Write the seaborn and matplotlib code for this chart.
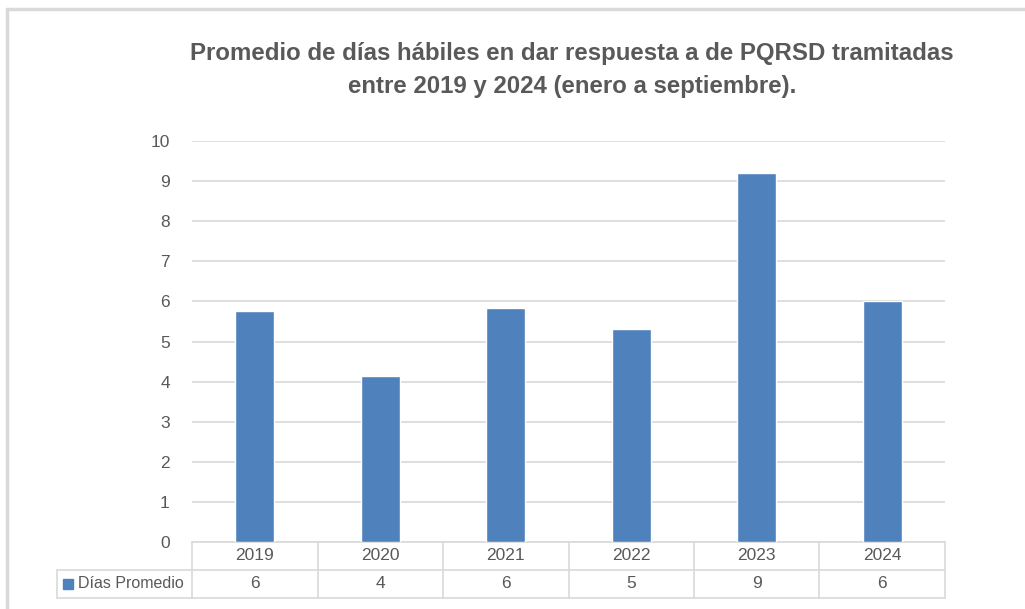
import matplotlib
matplotlib.use("Agg")
import matplotlib.pyplot as plt
import seaborn as sns
import pandas as pd
from matplotlib.lines import Line2D
from matplotlib.patches import Rectangle

# datos
anios = ["2019", "2020", "2021", "2022", "2023", "2024"]
dias_promedio = [5.76, 4.14, 5.84, 5.30, 9.19, 6.01]
etiquetas_tabla = ["6", "4", "6", "5", "9", "6"]
serie = "Días Promedio"
titulo = ("Promedio de días hábiles en dar respuesta a de PQRSD tramitadas\n"
          "entre 2019 y 2024 (enero a septiembre).")

AZUL = "#4f81bd"
GRIS_TXT = "#595959"
GRIS_LIN = "#d9d9d9"

sns.set_style("white")
plt.rcParams['font.family'] = ['Liberation Sans', 'DejaVu Sans']

W, H = 1025, 609
fig = plt.figure(figsize=(W / 100, H / 100), dpi=100)

# marco exterior
fig.add_artist(Line2D([7 / W, 7 / W], [0, 1 - 9 / H], color=GRIS_LIN, lw=2.5))
fig.add_artist(Line2D([7 / W, 1], [1 - 9 / H, 1 - 9 / H], color=GRIS_LIN, lw=2.5))

x0, x1, yb, yt = 192, 945, 542, 141
ax = fig.add_axes([x0 / W, 1 - yb / H, (x1 - x0) / W, (yb - yt) / H])

df = pd.DataFrame({"anio": anios, "dias": dias_promedio})
sns.barplot(data=df, x="anio", y="dias", color=AZUL, width=0.314,
            saturation=1, ax=ax, zorder=3)

ax.set_ylim(0, 10)
ax.set_xlim(-0.5, len(anios) - 0.5)
ax.set_yticks(range(0, 11))
ax.yaxis.grid(True, color=GRIS_LIN, lw=1.2, zorder=0)
ax.set_axisbelow(True)
for s in ax.spines.values():
    s.set_visible(False)
ax.set_xlabel("")
ax.set_ylabel("")
ax.set_xticks([])
ax.tick_params(axis="y", length=0, pad=16, labelsize=12.5, labelcolor=GRIS_TXT)

# tabla de datos bajo el eje
rh = 28 / (yb - yt)
left_frac = (57 - x0) / (x1 - x0)
tr = ax.get_xaxis_transform()
kw = dict(color=GRIS_LIN, lw=1.2, clip_on=False)
ax.plot([-0.5, len(anios) - 0.5], [0, 0], transform=tr, **kw)
ax.plot([left_frac, 1], [-rh, -rh], transform=ax.transAxes, **kw)
ax.plot([left_frac, 1], [-2 * rh, -2 * rh], transform=ax.transAxes, **kw)
ax.plot([left_frac, left_frac], [-rh, -2 * rh], transform=ax.transAxes, **kw)
for k in range(len(anios) + 1):
    ax.plot([k - 0.5, k - 0.5], [0, -2 * rh], transform=tr, **kw)

for i, (a, v) in enumerate(zip(anios, etiquetas_tabla)):
    ax.text(i, -0.5 * rh, a, transform=tr, ha="center", va="center",
            fontsize=12.5, color=GRIS_TXT)
    ax.text(i, -1.5 * rh, v, transform=tr, ha="center", va="center",
            fontsize=12.5, color=GRIS_TXT)

lx = left_frac + 6 / (x1 - x0)
ax.add_patch(Rectangle((lx, -1.5 * rh - 5 / (yb - yt)), 10 / (x1 - x0), 10 / (yb - yt),
                       transform=ax.transAxes, color=AZUL, clip_on=False))
ax.text(lx + 15 / (x1 - x0), -1.5 * rh, serie, transform=ax.transAxes,
        ha="left", va="center", fontsize=11.5, color=GRIS_TXT)

fig.text(572 / W, 1 - 70 / H, titulo, ha="center", va="center", fontsize=17.3,
         fontweight="bold", color=GRIS_TXT, linespacing=1.6)

fig.savefig("out.png", dpi=100)
